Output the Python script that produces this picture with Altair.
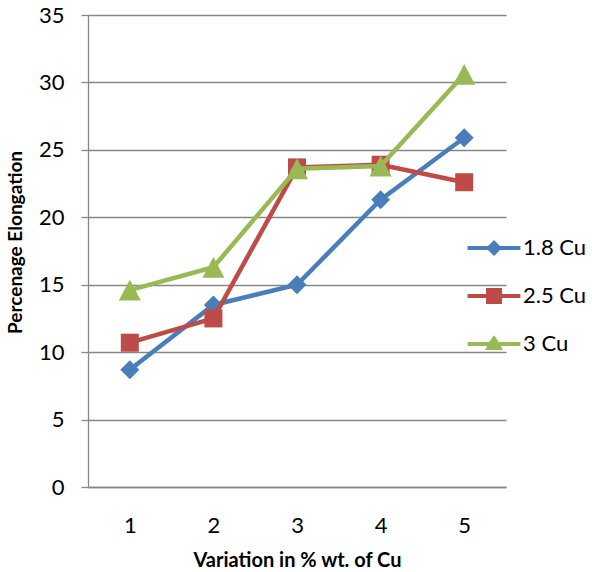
import altair as alt
import pandas as pd

x_vals = [1, 2, 3, 4, 5]
series = ["1.8 Cu", "2.5 Cu", "3 Cu"]
cu_18 = [8.7, 13.5, 15.0, 21.3, 25.9]
cu_25 = [10.7, 12.5, 23.7, 23.9, 22.6]
cu_30 = [14.6, 16.3, 23.6, 23.8, 30.6]
colors = ["#4A7EBB", "#BE4B48", "#98B954"]

rows = []
for s, vals in zip(series, [cu_18, cu_25, cu_30]):
    for xv, yv in zip(x_vals, vals):
        rows.append({"x": xv, "y": yv, "series": s})
df = pd.DataFrame(rows)

FONT = "Lato"
GRID = "#868686"

# plot marker shapes (custom path for the taller triangle)
TRI = "M0,-0.95L1,0.95L-1,0.95Z"
marker_shapes = ["diamond", "square", TRI]
marker_sizes = [360, 324, 484]

# legend symbols: line + marker in one outline
LEG_D = "M-3.3,-0.25H-0.75L0,-1L0.75,-0.25H3.3V0.25H0.75L0,1L-0.75,0.25H-3.3Z"
LEG_S = "M-3.3,-0.25H-1V-1H1V-0.25H3.3V0.25H1V1H-1V0.25H-3.3Z"
LEG_T = "M-3.3,-0.25H-0.6L0,-1.1L0.6,-0.25H3.3V0.25H0.85L1.1,0.75H-1.1L-0.85,0.25H-3.3Z"
sym_expr = (
    f"datum.value === '{series[0]}' ? '{LEG_D}' : "
    f"(datum.value === '{series[1]}' ? '{LEG_S}' : '{LEG_T}')"
)

legend = alt.Legend(
    title=None,
    orient="none",
    legendX=395,
    legendY=222,
    padding=0,
    symbolSize=256,
    symbolStrokeWidth=0,
    symbolType=alt.ExprRef(sym_expr),
    labelOffset=18,
    labelFont=FONT,
    labelFontSize=22,
    labelColor="#000000",
    rowPadding=26,
)

xenc = alt.X(
    "x:O",
    scale=alt.Scale(type="point", padding=0.5),
    axis=alt.Axis(
        title="Variation in % wt. of Cu",
        labelAngle=0,
        ticks=False,
        tickSize=0,
        grid=False,
        domainColor=GRID,
        domainWidth=1.3,
        labelFont=FONT,
        labelFontSize=22,
        labelColor="#000000",
        labelPadding=45,
        labelBaseline="alphabetic",
        titleFont=FONT,
        titleFontSize=20,
        titleFontWeight="bold",
        titleColor="#000000",
        titleY=79,
        titleBaseline="alphabetic",
    ),
)
yenc = alt.Y(
    "y:Q",
    scale=alt.Scale(domain=[0, 35], nice=False, zero=True),
    axis=alt.Axis(
        title="Percenage Elongation",
        values=[0, 5, 10, 15, 20, 25, 30, 35],
        grid=True,
        gridColor=GRID,
        gridWidth=1.3,
        domainColor=GRID,
        domainWidth=1.3,
        tickColor=GRID,
        tickWidth=1.3,
        tickSize=7,
        labelFont=FONT,
        labelFontSize=22,
        labelColor="#000000",
        labelPadding=17,
        titleFont=FONT,
        titleFontSize=19,
        titleFontWeight="bold",
        titleColor="#000000",
        titleX=-63,
        titleY=227,
        titleBaseline="bottom",
    ),
)

color_scale = alt.Scale(domain=series, range=colors)

layers = []
for i, s in enumerate(series):
    sub = alt.Chart(df).transform_filter(alt.datum.series == s)
    line = sub.mark_line(strokeWidth=4.5).encode(
        x=xenc,
        y=yenc,
        color=alt.Color("series:N", scale=color_scale, legend=legend),
    )
    pts = sub.mark_point(
        filled=True, opacity=1, size=marker_sizes[i], shape=marker_shapes[i]
    ).encode(
        x=xenc,
        y=yenc,
        color=alt.Color("series:N", scale=color_scale, legend=legend),
    )
    layers += [line, pts]

chart = (
    alt.layer(*layers)
    .properties(
        width=418,
        height=472,
        padding={"left": 88, "top": 15, "right": 86, "bottom": 85},
        autosize=alt.AutoSizeParams(type="none"),
        background="white",
    )
    .configure_view(stroke=None)
)

chart.save("out.html", embed_options={"renderer": "svg", "actions": False})
